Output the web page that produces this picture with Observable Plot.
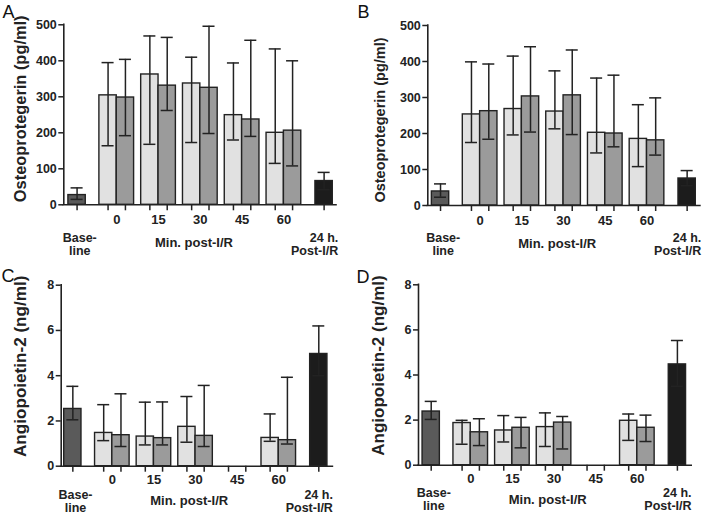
<!DOCTYPE html>
<html><head><meta charset="utf-8">
<script src="https://cdn.jsdelivr.net/npm/d3@7"></script>
<script src="https://cdn.jsdelivr.net/npm/@observablehq/plot@0.6"></script>
<style>
html,body{margin:0;padding:0;background:#fff;}
#fig{position:relative;width:711px;height:514px;overflow:hidden;background:#fff;font-family:"Liberation Sans",Arial,sans-serif;}
.panel{position:absolute;}
.letter{position:absolute;font-size:18px;line-height:18px;color:#111;font-family:"Liberation Sans",Arial,sans-serif;}
</style></head><body><div id="fig"></div>
<script>
// ---- categories & labels ----
const timepoints = ["0", "15", "30", "45", "60"];
const seriesNames = ["Baseline", "Light", "Dark", "24 h"];
const barSeries = ["Baseline", "Light", "Dark", "Light", "Dark", "Light", "Dark", "Light", "Dark", "Light", "Dark", "24 h"];
const baselineLabel = ["Base-", "line"];
const postLabel = ["24 h.", "Post-I/R"];
const minLabel = "Min. post-I/R";
const opgLabel = "Osteoprotegerin (pg/ml)";
const ang2Label = "Angiopoietin-2 (ng/ml)";
const opgTicks = [0, 100, 200, 300, 400, 500];
const ang2Ticks = [0, 2, 4, 6, 8];
const panelLetters = ["A", "B", "C", "D"];

// ---- values (bar order: baseline, 0 L, 0 D, 15 L, 15 D, 30 L, 30 D, 45 L, 45 D, 60 L, 60 D, 24 h) ----
const A_mean = [27, 304, 298, 362, 331, 337, 325, 249, 237, 200, 206, 66];
const A_lo   = [15, 164, 192, 168, 262, 173, 198, 180, 190, 115, 108, 42];
const A_hi   = [47, 395, 404, 469, 465, 410, 496, 394, 457, 433, 400, 90];

const B_mean = [39, 253, 262, 268, 303, 261, 306, 202, 200, 185, 181, 75];
const B_lo   = [23, 175, 184, 196, 204, 213, 197, 146, 163, 108, 140, 55];
const B_hi   = [60, 399, 393, 415, 441, 374, 432, 354, 362, 280, 299, 97];

const C_mean = [2.53, 1.47, 1.37, 1.31, 1.24, 1.74, 1.34, null, null, 1.25, 1.15, 4.96];
const C_lo   = [2.05, 1.13, 0.87, 0.94, 0.94, 1.06, 0.87, null, null, 1.10, 0.98, 4.00];
const C_hi   = [3.53, 2.72, 3.20, 2.83, 2.84, 3.08, 3.57, null, null, 2.31, 3.93, 6.20];

const D_mean = [2.38, 1.87, 1.46, 1.54, 1.66, 1.69, 1.89, null, null, 1.97, 1.66, 4.47];
const D_lo   = [2.03, 0.93, 0.87, 1.03, 0.77, 0.83, 0.72, null, null, 1.10, 1.05, 3.50];
const D_hi   = [2.83, 1.99, 2.06, 2.20, 2.12, 2.32, 2.16, null, null, 2.27, 2.22, 5.53];

// ---- styling ----
const seriesColors = ["#5a5a5a", "#e1e1e1", "#9b9b9b", "#1c1c1c"];
const ink = "#222";
const FONT = "'Liberation Sans', Arial, Helvetica, sans-serif";

// slot layout along a linear x scale (in bar-width units)
function barPos(i) {
  if (i === 0) return 0;
  if (i === 11) return 13.95;
  const k = Math.floor((i - 1) / 2), s = (i - 1) % 2;
  return 1.75 + 2.36 * k + 0.98 * s;
}
const pairCenter = k => 1.75 + 2.36 * k + 0.49;

function panel(cfg) {
  const bars = cfg.mean.map((m, i) => ({
    series: barSeries[i], mean: m, lo: cfg.lo[i], hi: cfg.hi[i], pos: barPos(i)
  })).filter(d => d.mean != null);
  const tickPositions = barSeries.map((_, i) => barPos(i));
  const half = 0.49, cap = 0.34;
  const textStyle = {fill: ink, fontWeight: "bold", fontFamily: FONT};
  const twoLine = {frameAnchor: "bottom", dy: cfg.l1Dy, lineAnchor: "top", lineHeight: 1.04, fontSize: 12.5, ...textStyle};
  return Plot.plot({
    width: cfg.width, height: cfg.height,
    marginLeft: cfg.ml, marginRight: cfg.mr, marginTop: cfg.mt, marginBottom: cfg.mb,
    style: {fontFamily: FONT, fontSize: "12px", fontWeight: "bold", color: ink, background: "transparent", overflow: "visible"},
    x: {type: "linear", domain: cfg.xDomain},
    y: {domain: [cfg.yTicks[0], cfg.yTicks[cfg.yTicks.length - 1]]},
    color: {domain: seriesNames, range: seriesColors},
    marks: [
      Plot.rect(bars, {x1: d => d.pos - half, x2: d => d.pos + half, y1: 0, y2: "mean",
        fill: "series", stroke: ink, strokeWidth: 1.4}),
      Plot.ruleX(bars, {x: "pos", y1: "lo", y2: "hi", stroke: ink, strokeWidth: 1.5}),
      Plot.ruleY(bars, {y: "hi", x1: d => d.pos - cap, x2: d => d.pos + cap, stroke: ink, strokeWidth: 1.5}),
      Plot.ruleY(bars, {y: "lo", x1: d => d.pos - cap, x2: d => d.pos + cap, stroke: ink, strokeWidth: 1.5}),
      Plot.ruleY([cfg.yTicks[0]], {stroke: ink, strokeWidth: 1.6, strokeLinecap: "square"}),
      Plot.ruleX([cfg.xDomain[0]], {stroke: ink, strokeWidth: 1.6, strokeLinecap: "square"}),
      Plot.axisY({ticks: cfg.yTicks, tickSize: 5, tickPadding: 2, label: null, strokeWidth: 1.5,
        fontSize: 12.5, fontWeight: "bold", fill: ink, stroke: ink}),
      Plot.axisX({ticks: tickPositions, tickSize: 6, tickFormat: () => "", label: null, strokeWidth: 1.5, stroke: ink}),
      Plot.text(timepoints, {x: (d, k) => pairCenter(k), frameAnchor: "bottom", dy: cfg.tickDy, fontSize: 13, ...textStyle}),
      Plot.text([baselineLabel.join("\n")], {x: () => 0.15, textAnchor: "middle", ...twoLine}),
      Plot.text([postLabel.join("\n")], {x: () => 13.95 + 0.8, textAnchor: "end", ...twoLine}),
      Plot.text([minLabel], {x: () => 6.6, frameAnchor: "bottom", dy: cfg.minDy, fontSize: 13, ...textStyle}),
      Plot.text([cfg.yLabel], {frameAnchor: "left", textAnchor: "middle", dx: cfg.titleDx, dy: cfg.titleDy, rotate: -90,
        fontSize: cfg.titleSize, ...textStyle})
    ]
  });
}

const configs = [
  {letter: panelLetters[0], left: 0, top: 0, width: 355, height: 257, ml: 63.3, mr: 19, mt: 24.3, mb: 52.7,
   xDomain: [-0.75, 14.65], yTicks: opgTicks, mean: A_mean, lo: A_lo, hi: A_hi, yLabel: opgLabel,
   titleSize: 16.4, titleDx: -43.3, titleDy: -6, tickDy: 19, l1Dy: 27.5, minDy: 42.5,
   letterLeft: 2.5, letterTop: 3},
  {letter: panelLetters[1], left: 355, top: 0, width: 356, height: 257, ml: 72.3, mr: 11.1, mt: 25, mb: 52,
   xDomain: [-0.72, 14.7], yTicks: opgTicks, mean: B_mean, lo: B_lo, hi: B_hi, yLabel: opgLabel,
   titleSize: 14.5, titleDx: -47, titleDy: 4.5, tickDy: 19, l1Dy: 27.5, minDy: 42.5,
   letterLeft: 357.5, letterTop: 3},
  {letter: panelLetters[2], left: 0, top: 257, width: 355, height: 257, ml: 60.7, mr: 22.6, mt: 27.7, mb: 48.3,
   xDomain: [-0.66, 14.75], yTicks: ang2Ticks, mean: C_mean, lo: C_lo, hi: C_hi, yLabel: ang2Label,
   titleSize: 17.1, titleDx: -40.7, titleDy: -9.4, tickDy: 17.6, l1Dy: 23.5, minDy: 39,
   letterLeft: 1.5, letterTop: 267.2},
  {letter: panelLetters[3], left: 355, top: 257, width: 356, height: 257, ml: 63, mr: 19.8, mt: 27.3, mb: 49.3,
   xDomain: [-0.72, 14.76], yTicks: ang2Ticks, mean: D_mean, lo: D_lo, hi: D_hi, yLabel: ang2Label,
   titleSize: 17, titleDx: -39.7, titleDy: -9.5, tickDy: 17.6, l1Dy: 22.5, minDy: 38.5,
   letterLeft: 356.5, letterTop: 268}
];

const fig = document.getElementById("fig");
for (const cfg of configs) {
  const wrap = document.createElement("div");
  wrap.className = "panel";
  wrap.style.left = cfg.left + "px";
  wrap.style.top = cfg.top + "px";
  wrap.appendChild(panel(cfg));
  fig.appendChild(wrap);
  const letter = document.createElement("div");
  letter.className = "letter";
  letter.style.left = cfg.letterLeft + "px";
  letter.style.top = cfg.letterTop + "px";
  letter.textContent = cfg.letter;
  fig.appendChild(letter);
}
</script>
</body></html>
